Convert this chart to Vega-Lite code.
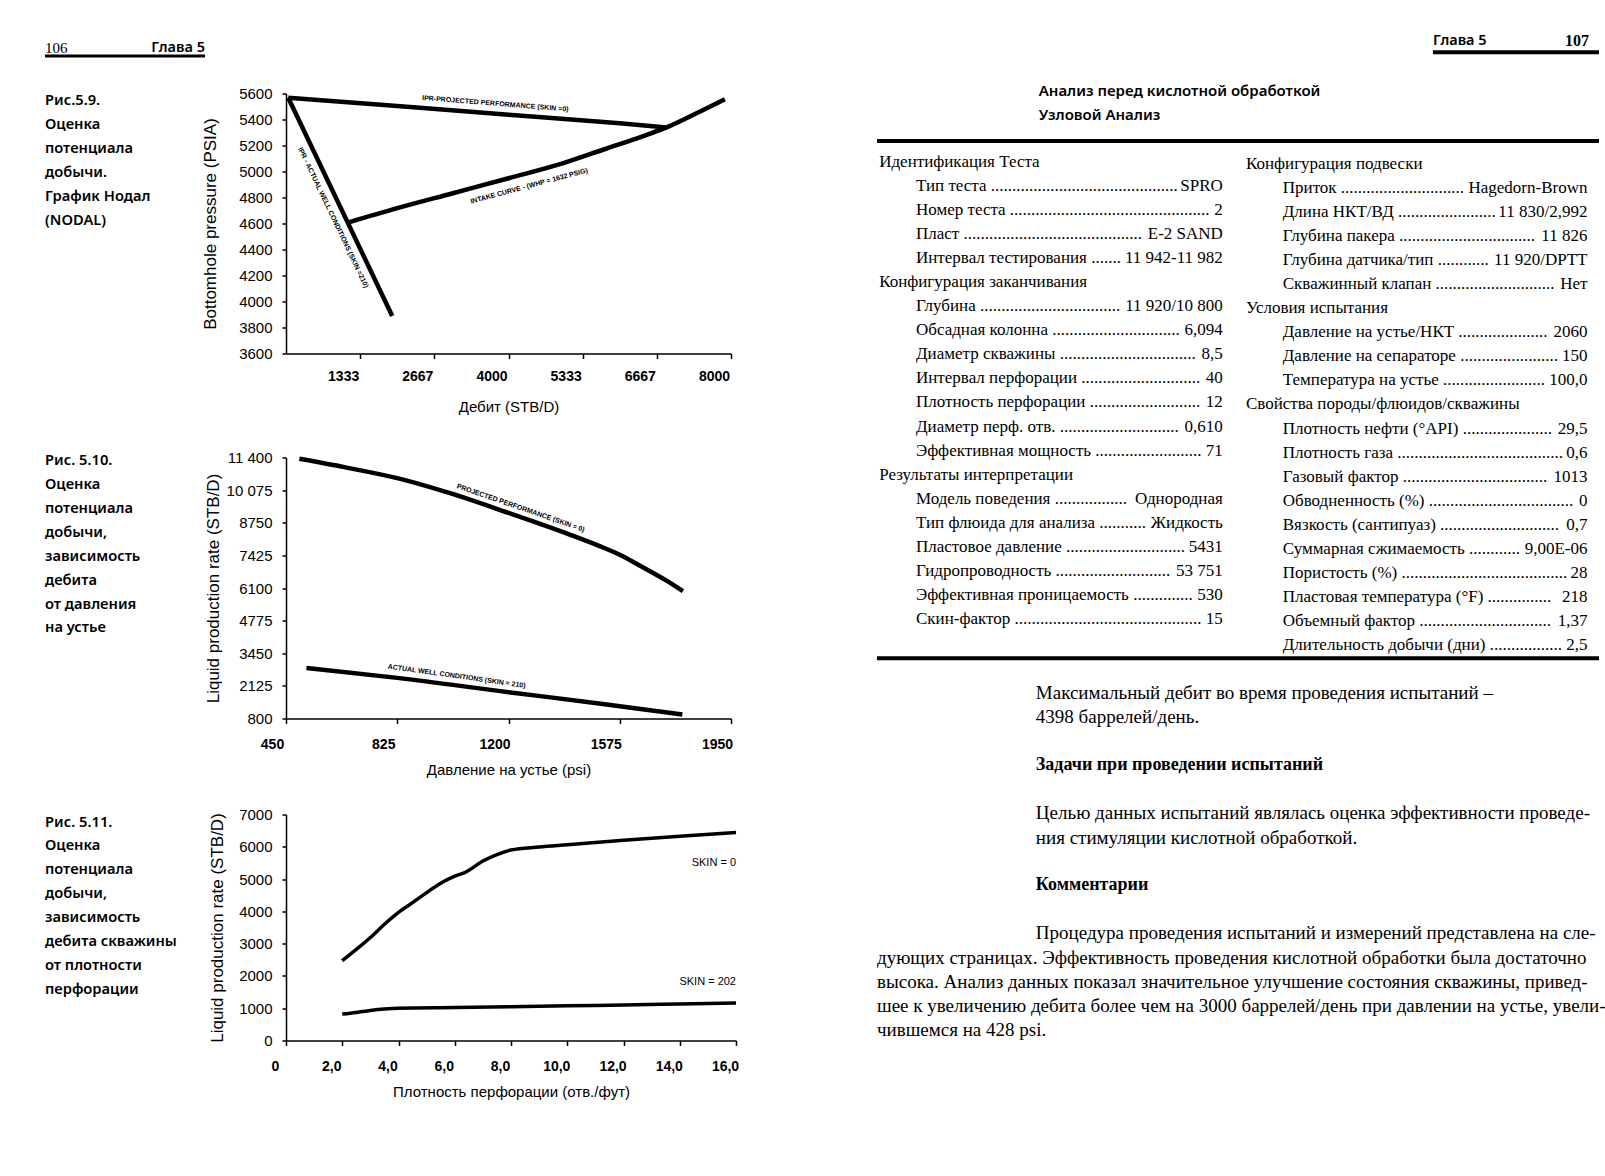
{
 "$schema": "https://vega.github.io/schema/vega-lite/v6.json",
 "background": "white",
 "padding": {"left": 43, "top": 32.5, "right": 4, "bottom": 10},
 "columns": 3,
 "align": "each",
 "bounds": "flush",
 "spacing": {"row": 94, "column": 81},
 "config": {
  "view": {"stroke": null},
  "axis": {"grid": false, "domainColor": "black", "domainWidth": 1.5, "tickColor": "black", "tickWidth": 1.5, "labelColor": "black", "titleColor": "black", "labelFont": "Liberation Sans", "titleFont": "Liberation Sans", "titleFontWeight": "normal", "labelFlush": false, "labelOverlap": false, "labelBound": false},
  "text": {"color": "black"},
  "line": {"color": "black"},
  "rule": {"color": "black"}
 },
 "datasets": {
  "pageHeader": [{"line": -5, "chapter": "Глава 5", "page": "107"}],
  "titles": [{"line": -3, "text": "Анализ перед кислотной обработкой"}, {"line": -2, "text": "Узловой Анализ"}],
  "tlSections": [{"line": 0, "text": "Идентификация Теста"}, {"line": 5, "text": "Конфигурация заканчивания"}, {"line": 13, "text": "Результаты интерпретации"}],
  "tlItems": [
   {"line": 1, "label": "Тип теста ............................................", "value": "SPRO"},
   {"line": 2, "label": "Номер теста ...............................................", "value": "2"},
   {"line": 3, "label": "Пласт ..........................................", "value": "E-2 SAND"},
   {"line": 4, "label": "Интервал тестирования .......", "value": "11 942-11 982"},
   {"line": 6, "label": "Глубина .................................", "value": "11 920/10 800"},
   {"line": 7, "label": "Обсадная колонна ..............................", "value": "6,094"},
   {"line": 8, "label": "Диаметр скважины ................................", "value": "8,5"},
   {"line": 9, "label": "Интервал перфорации ............................", "value": "40"},
   {"line": 10, "label": "Плотность перфорации ..........................", "value": "12"},
   {"line": 11, "label": "Диаметр перф. отв. ............................", "value": "0,610"},
   {"line": 12, "label": "Эффективная мощность .........................", "value": "71"},
   {"line": 14, "label": "Модель поведения .................", "value": "Однородная"},
   {"line": 15, "label": "Тип флюида для анализа ...........", "value": "Жидкость"},
   {"line": 16, "label": "Пластовое давление ............................", "value": "5431"},
   {"line": 17, "label": "Гидропроводность ...........................", "value": "53 751"},
   {"line": 18, "label": "Эффективная проницаемость ..............", "value": "530"},
   {"line": 19, "label": "Скин-фактор ............................................", "value": "15"}
  ],
  "trSections": [{"line": 0, "text": "Конфигурация подвески"}, {"line": 6, "text": "Условия испытания"}, {"line": 10, "text": "Свойства породы/флюидов/скважины"}],
  "trItems": [
   {"line": 1, "label": "Приток .............................", "value": "Hagedorn-Brown"},
   {"line": 2, "label": "Длина НКТ/ВД .......................", "value": "11 830/2,992"},
   {"line": 3, "label": "Глубина пакера ................................", "value": "11 826"},
   {"line": 4, "label": "Глубина датчика/тип ............", "value": "11 920/DPTT"},
   {"line": 5, "label": "Скважинный клапан ............................", "value": "Нет"},
   {"line": 7, "label": "Давление на устье/НКТ .....................", "value": "2060"},
   {"line": 8, "label": "Давление на сепараторе .......................", "value": "150"},
   {"line": 9, "label": "Температура на устье ........................", "value": "100,0"},
   {"line": 11, "label": "Плотность нефти (°API) .....................", "value": "29,5"},
   {"line": 12, "label": "Плотность газа .......................................", "value": "0,6"},
   {"line": 13, "label": "Газовый фактор ..................................", "value": "1013"},
   {"line": 14, "label": "Обводненность (%) ..................................", "value": "0"},
   {"line": 15, "label": "Вязкость (сантипуаз) ............................", "value": "0,7"},
   {"line": 16, "label": "Суммарная сжимаемость ............", "value": "9,00E-06"},
   {"line": 17, "label": "Пористость (%) .......................................", "value": "28"},
   {"line": 18, "label": "Пластовая температура (°F) ...............", "value": "218"},
   {"line": 19, "label": "Объемный фактор ...............................", "value": "1,37"},
   {"line": 20, "label": "Длительность добычи (дни) .................", "value": "2,5"}
  ],
  "para2": [
   {"line": 22, "text": "Максимальный дебит во время проведения испытаний –"},
   {"line": 23, "text": "4398 баррелей/день."},
   {"line": 27, "text": "Целью данных испытаний являлась оценка эффективности проведе-"},
   {"line": 28, "text": "ния стимуляции кислотной обработкой."}
  ],
  "heading2": [{"line": 25, "text": "Задачи при проведении испытаний"}],
  "heading3": [{"line": 30, "text": "Комментарии"}],
  "para3Indented": [{"line": 32, "text": "Процедура проведения испытаний и измерений представлена на сле-"}],
  "para3Full": [
   {"line": 33, "text": "дующих страницах. Эффективность проведения кислотной обработки была достаточно"},
   {"line": 34, "text": "высока. Анализ данных показал значительное улучшение состояния скважины, привед-"},
   {"line": 35, "text": "шее к увеличению дебита более чем на 3000 баррелей/день при давлении на устье, увели-"},
   {"line": 36, "text": "чившемся на 428 psi."}
  ]
 },
 "concat": [
  {
   "width": 160, "height": 270,
   "layer": [
    {"data": {"values": [{"line": 1, "text": "Рис.5.9."}, {"line": 2, "text": "Оценка"}, {"line": 3, "text": "потенциала"}, {"line": 4, "text": "добычи."}, {"line": 5, "text": "График Нодал"}, {"line": 6, "text": "(NODAL)"}]},
     "mark": {"type": "text", "align": "left", "baseline": "middle", "font": "Noto Sans", "fontSize": 14.7, "fontWeight": 600},
     "encoding": {
      "x": {"datum": 0, "type": "quantitative", "scale": {"domain": [0, 1], "nice": false, "zero": false}, "axis": null},
      "y": {"field": "line", "type": "quantitative", "scale": {"domain": [0.666, 11.963], "reverse": true, "nice": false, "zero": false}, "axis": null},
      "text": {"field": "text"}}},
    {"data": {"values": [{"text": "106"}]}, "mark": {"type": "text", "align": "left", "baseline": "middle", "font": "Liberation Serif", "fontSize": 15},
     "encoding": {"x": {"datum": 0, "type": "quantitative"}, "y": {"datum": -1.22, "type": "quantitative"}, "text": {"field": "text"}}},
    {"data": {"values": [{"text": "Глава 5"}]}, "mark": {"type": "text", "align": "right", "baseline": "middle", "font": "Noto Sans", "fontSize": 14.5, "fontWeight": 600},
     "encoding": {"x": {"datum": 1, "type": "quantitative"}, "y": {"datum": -1.22, "type": "quantitative"}, "text": {"field": "text"}}},
    {"data": {"values": [{}]}, "mark": {"type": "rule", "strokeWidth": 3},
     "encoding": {"x": {"datum": 0, "type": "quantitative"}, "x2": {"datum": 1}, "y": {"datum": -0.905, "type": "quantitative"}}}
   ]
  },
  {
   "width": 445, "height": 260,
   "encoding": {
    "x": {"field": "rate", "type": "quantitative", "scale": {"domain": [0, 8000], "nice": false, "zero": false},
          "axis": {"values": [1333.33, 2666.67, 4000, 5333.33, 6666.67, 8000], "format": ".0f", "title": "Дебит (STB/D)", "tickSize": 5, "labelFontSize": 14, "labelFontWeight": "bold", "labelOffset": -17, "labelPadding": 11, "titleFontSize": 15, "titlePadding": 16}},
    "y": {"field": "pressure", "type": "quantitative", "scale": {"domain": [3600, 5600], "nice": false, "zero": false},
          "axis": {"values": [3600, 3800, 4000, 4200, 4400, 4600, 4800, 5000, 5200, 5400, 5600], "format": "d", "title": "Bottomhole pressure (PSIA)", "tickSize": 4, "labelFontSize": 15, "labelPadding": 10, "titleFontSize": 17, "titlePadding": 19}}
   },
   "layer": [
    {
     "data": {"values": [
      {"curve": "IPR projected (skin 0)", "rate": 40, "pressure": 5567},
      {"curve": "IPR projected (skin 0)", "rate": 2000, "pressure": 5503},
      {"curve": "IPR projected (skin 0)", "rate": 4000, "pressure": 5437},
      {"curve": "IPR projected (skin 0)", "rate": 6000, "pressure": 5371},
      {"curve": "IPR projected (skin 0)", "rate": 6840, "pressure": 5339},
      {"curve": "IPR actual (skin 210)", "rate": 40, "pressure": 5567},
      {"curve": "IPR actual (skin 210)", "rate": 1910, "pressure": 3889},
      {"curve": "Intake curve (WHP 1632)", "rate": 1110, "pressure": 4607},
      {"curve": "Intake curve (WHP 1632)", "rate": 2000, "pressure": 4718},
      {"curve": "Intake curve (WHP 1632)", "rate": 3000, "pressure": 4833},
      {"curve": "Intake curve (WHP 1632)", "rate": 4000, "pressure": 4948},
      {"curve": "Intake curve (WHP 1632)", "rate": 5000, "pressure": 5066},
      {"curve": "Intake curve (WHP 1632)", "rate": 5750, "pressure": 5175},
      {"curve": "Intake curve (WHP 1632)", "rate": 6400, "pressure": 5268},
      {"curve": "Intake curve (WHP 1632)", "rate": 6840, "pressure": 5339},
      {"curve": "Intake curve (WHP 1632)", "rate": 7370, "pressure": 5446},
      {"curve": "Intake curve (WHP 1632)", "rate": 7890, "pressure": 5556}
     ]},
     "mark": {"type": "line", "strokeWidth": 4.5, "strokeJoin": "round", "interpolate": "monotone"},
     "encoding": {"detail": {"field": "curve"}}
    },
    {"data": {"values": [{"rate": 3763, "pressure": 5521, "label": "IPR-PROJECTED PERFORMANCE (SKIN =0)"}]},
     "mark": {"type": "text", "angle": 4.5, "font": "Liberation Sans", "fontSize": 7, "fontWeight": "bold"},
     "encoding": {"text": {"field": "label"}}},
    {"data": {"values": [{"rate": 4372, "pressure": 4888, "label": "INTAKE CURVE - (WHP = 1632 PSIG)"}]},
     "mark": {"type": "text", "angle": -15, "font": "Liberation Sans", "fontSize": 7, "fontWeight": "bold"},
     "encoding": {"text": {"field": "label"}}},
    {"data": {"values": [{"rate": 847, "pressure": 4645, "label": "IPR - ACTUAL WELL CONDITIONS (SKIN =210)"}]},
     "mark": {"type": "text", "angle": 64.5, "font": "Liberation Sans", "fontSize": 7, "fontWeight": "bold"},
     "encoding": {"text": {"field": "label"}}}
   ]
  },
  {
   "width": 782, "height": 260,
   "encoding": {
    "x": {"datum": 0, "type": "quantitative", "scale": {"domain": [-8.31, 100], "nice": false, "zero": false}, "axis": null}
   },
   "layer": [
    {"data": {"name": "pageHeader"}, "mark": {"type": "text", "align": "left", "baseline": "middle", "font": "Noto Sans", "fontSize": 14.5, "fontWeight": 600},
     "encoding": {"x": {"datum": 77.0, "type": "quantitative"}, "y": {"field": "line", "type": "quantitative", "scale": {"domain": [-2.834, 7.966], "reverse": true, "nice": false, "zero": false}, "axis": null}, "text": {"field": "chapter"}}},
    {"data": {"name": "pageHeader"}, "mark": {"type": "text", "align": "right", "baseline": "middle", "font": "Liberation Serif", "fontSize": 16, "fontWeight": "bold"},
     "encoding": {"x": {"datum": 98.6, "type": "quantitative"}, "y": {"field": "line", "type": "quantitative"}, "text": {"field": "page"}}},
    {"data": {"values": [{}]}, "mark": {"type": "rule", "strokeWidth": 4},
     "encoding": {"x": {"datum": 77.0, "type": "quantitative"}, "x2": {"datum": 100}, "y": {"datum": -4.55, "type": "quantitative"}}},
    {"data": {"name": "titles"}, "mark": {"type": "text", "align": "left", "baseline": "middle", "font": "Noto Sans", "fontSize": 15, "fontWeight": 600, "dy": 1.5},
     "encoding": {"x": {"datum": 22.4, "type": "quantitative"}, "y": {"field": "line", "type": "quantitative"}, "text": {"field": "text"}}},
    {"data": {"values": [{}]}, "mark": {"type": "rule", "strokeWidth": 4},
     "encoding": {"x": {"datum": 0, "type": "quantitative"}, "x2": {"datum": 100}, "y": {"datum": -0.86, "type": "quantitative"}}},
    {"data": {"values": [{}]}, "mark": {"type": "rule", "strokeWidth": 4},
     "encoding": {"x": {"datum": 0, "type": "quantitative"}, "x2": {"datum": 100}, "y": {"datum": 20.63, "type": "quantitative"}}},
    {"data": {"name": "tlSections"}, "mark": {"type": "text", "align": "left", "baseline": "middle", "font": "Liberation Serif", "fontSize": 17},
     "encoding": {"x": {"datum": 0.3, "type": "quantitative"}, "y": {"field": "line", "type": "quantitative"}, "text": {"field": "text"}}},
    {"data": {"name": "tlItems"}, "mark": {"type": "text", "align": "left", "baseline": "middle", "font": "Liberation Serif", "fontSize": 17},
     "encoding": {"x": {"datum": 5.4, "type": "quantitative"}, "y": {"field": "line", "type": "quantitative"}, "text": {"field": "label"}}},
    {"data": {"name": "tlItems"}, "mark": {"type": "text", "align": "right", "baseline": "middle", "font": "Liberation Serif", "fontSize": 17},
     "encoding": {"x": {"datum": 47.9, "type": "quantitative"}, "y": {"field": "line", "type": "quantitative"}, "text": {"field": "value"}}},
    {"data": {"name": "trSections"}, "mark": {"type": "text", "align": "left", "baseline": "middle", "font": "Liberation Serif", "fontSize": 17, "dy": 2},
     "encoding": {"x": {"datum": 51.1, "type": "quantitative"}, "y": {"field": "line", "type": "quantitative"}, "text": {"field": "text"}}},
    {"data": {"name": "trItems"}, "mark": {"type": "text", "align": "left", "baseline": "middle", "font": "Liberation Serif", "fontSize": 17, "dy": 2},
     "encoding": {"x": {"datum": 56.2, "type": "quantitative"}, "y": {"field": "line", "type": "quantitative"}, "text": {"field": "label"}}},
    {"data": {"name": "trItems"}, "mark": {"type": "text", "align": "right", "baseline": "middle", "font": "Liberation Serif", "fontSize": 17, "dy": 2},
     "encoding": {"x": {"datum": 98.4, "type": "quantitative"}, "y": {"field": "line", "type": "quantitative"}, "text": {"field": "value"}}}
   ]
  },
  {
   "width": 160, "height": 263,
   "data": {"values": [{"line": 1, "text": "Рис. 5.10."}, {"line": 2, "text": "Оценка"}, {"line": 3, "text": "потенциала"}, {"line": 4, "text": "добычи,"}, {"line": 5, "text": "зависимость"}, {"line": 6, "text": "дебита"}, {"line": 7, "text": "от давления"}, {"line": 8, "text": "на устье"}]},
   "mark": {"type": "text", "align": "left", "baseline": "middle", "font": "Noto Sans", "fontSize": 14.7, "fontWeight": 600},
   "encoding": {
    "x": {"datum": 0, "type": "quantitative", "scale": {"domain": [0, 1], "nice": false, "zero": false}, "axis": null},
    "y": {"field": "line", "type": "quantitative", "scale": {"domain": [0.849, 11.853], "reverse": true, "nice": false, "zero": false}, "axis": null},
    "text": {"field": "text"}
   }
  },
  {
   "width": 445, "height": 261,
   "encoding": {
    "x": {"field": "whp", "type": "quantitative", "scale": {"domain": [450, 1950], "nice": false, "zero": false},
          "axis": {"values": [450, 825, 1200, 1575, 1950], "format": "d", "title": "Давление на устье (psi)", "tickSize": 5, "labelFontSize": 14, "labelFontWeight": "bold", "labelOffset": -14, "labelPadding": 14, "titleFontSize": 15, "titlePadding": 11}},
    "y": {"field": "rate", "type": "quantitative", "scale": {"domain": [800, 11400], "nice": false, "zero": false},
          "axis": {"values": [800, 2125, 3450, 4775, 6100, 7425, 8750, 10075, 11400], "labelExpr": "datum.value >= 10000 ? replace(format(datum.value, ','), ',', ' ') : format(datum.value, 'd')", "title": "Liquid production rate (STB/D)", "tickSize": 4, "labelFontSize": 15, "labelPadding": 10, "titleFontSize": 17, "titlePadding": 4}}
   },
   "layer": [
    {
     "data": {"values": [
      {"curve": "Projected performance (skin 0)", "whp": 495, "rate": 11346},
      {"curve": "Projected performance (skin 0)", "whp": 650, "rate": 11000},
      {"curve": "Projected performance (skin 0)", "whp": 825, "rate": 10560},
      {"curve": "Projected performance (skin 0)", "whp": 1000, "rate": 9960},
      {"curve": "Projected performance (skin 0)", "whp": 1200, "rate": 9150},
      {"curve": "Projected performance (skin 0)", "whp": 1400, "rate": 8300},
      {"curve": "Projected performance (skin 0)", "whp": 1505, "rate": 7814},
      {"curve": "Projected performance (skin 0)", "whp": 1575, "rate": 7450},
      {"curve": "Projected performance (skin 0)", "whp": 1640, "rate": 7026},
      {"curve": "Projected performance (skin 0)", "whp": 1730, "rate": 6417},
      {"curve": "Projected performance (skin 0)", "whp": 1788, "rate": 5970},
      {"curve": "Actual well conditions (skin 210)", "whp": 519, "rate": 2855},
      {"curve": "Actual well conditions (skin 210)", "whp": 825, "rate": 2450},
      {"curve": "Actual well conditions (skin 210)", "whp": 1200, "rate": 1870},
      {"curve": "Actual well conditions (skin 210)", "whp": 1505, "rate": 1410},
      {"curve": "Actual well conditions (skin 210)", "whp": 1786, "rate": 960}
     ]},
     "mark": {"type": "line", "strokeWidth": 4.5, "strokeJoin": "round", "interpolate": "monotone"},
     "encoding": {"detail": {"field": "curve"}}
    },
    {"data": {"values": [{"whp": 1241, "rate": 9345, "label": "PROJECTED PERFORMANCE (SKIN = 0)"}]},
     "mark": {"type": "text", "angle": 19, "font": "Liberation Sans", "fontSize": 7, "fontWeight": "bold"},
     "encoding": {"text": {"field": "label"}}},
    {"data": {"values": [{"whp": 1025, "rate": 2517, "label": "ACTUAL WELL CONDITIONS (SKIN = 210)"}]},
     "mark": {"type": "text", "angle": 8, "font": "Liberation Sans", "fontSize": 7, "fontWeight": "bold"},
     "encoding": {"text": {"field": "label"}}}
   ]
  },
  {
   "width": 782, "height": 261,
   "encoding": {
    "x": {"datum": 0, "type": "quantitative", "scale": {"domain": [-8.31, 100], "nice": false, "zero": false}, "axis": null}
   },
   "layer": [
    {"data": {"name": "para2"}, "mark": {"type": "text", "align": "left", "baseline": "middle", "font": "Liberation Serif", "fontSize": 19},
     "encoding": {"x": {"datum": 22.0, "type": "quantitative"}, "y": {"field": "line", "type": "quantitative", "scale": {"domain": [12.203, 23.053], "reverse": true, "nice": false, "zero": false}, "axis": null}, "text": {"field": "text"}}},
    {"data": {"name": "heading2"}, "mark": {"type": "text", "align": "left", "baseline": "middle", "font": "Liberation Serif", "fontSize": 18, "fontWeight": "bold"},
     "encoding": {"x": {"datum": 22.0, "type": "quantitative"}, "y": {"field": "line", "type": "quantitative"}, "text": {"field": "text"}}}
   ]
  },
  {
   "width": 160, "height": 226,
   "data": {"values": [{"line": 1, "text": "Рис. 5.11."}, {"line": 2, "text": "Оценка"}, {"line": 3, "text": "потенциала"}, {"line": 4, "text": "добычи,"}, {"line": 5, "text": "зависимость"}, {"line": 6, "text": "дебита скважины"}, {"line": 7, "text": "от плотности"}, {"line": 8, "text": "перфорации"}]},
   "mark": {"type": "text", "align": "left", "baseline": "middle", "font": "Noto Sans", "fontSize": 14.7, "fontWeight": 600},
   "encoding": {
    "x": {"datum": 0, "type": "quantitative", "scale": {"domain": [0, 1], "nice": false, "zero": false}, "axis": null},
    "y": {"field": "line", "type": "quantitative", "scale": {"domain": [0.665, 10.121], "reverse": true, "nice": false, "zero": false}, "axis": null},
    "text": {"field": "text"}
   }
  },
  {
   "width": 450, "height": 226,
   "encoding": {
    "x": {"field": "density", "type": "quantitative", "scale": {"domain": [0, 16], "nice": false, "zero": false},
          "axis": {"values": [0, 2, 4, 6, 8, 10, 12, 14, 16], "labelExpr": "datum.value == 0 ? '0' : replace(format(datum.value, '.1f'), '.', ',')", "title": "Плотность перфорации (отв./фут)", "tickSize": 5, "labelFontSize": 14, "labelFontWeight": "bold", "labelOffset": -11, "labelPadding": 14, "titleFontSize": 15, "titlePadding": 11}},
    "y": {"field": "rate", "type": "quantitative", "scale": {"domain": [0, 7000], "nice": false, "zero": false},
          "axis": {"values": [0, 1000, 2000, 3000, 4000, 5000, 6000, 7000], "format": "d", "title": "Liquid production rate (STB/D)", "tickSize": 4, "labelFontSize": 15, "labelPadding": 10, "titleFontSize": 17, "titlePadding": 12}}
   },
   "layer": [
    {
     "data": {"values": [
      {"curve": "SKIN = 0", "density": 2.0, "rate": 2470},
      {"curve": "SKIN = 0", "density": 2.5, "rate": 2820},
      {"curve": "SKIN = 0", "density": 3.0, "rate": 3190},
      {"curve": "SKIN = 0", "density": 3.5, "rate": 3600},
      {"curve": "SKIN = 0", "density": 4.0, "rate": 3970},
      {"curve": "SKIN = 0", "density": 4.5, "rate": 4270},
      {"curve": "SKIN = 0", "density": 5.0, "rate": 4580},
      {"curve": "SKIN = 0", "density": 5.5, "rate": 4870},
      {"curve": "SKIN = 0", "density": 6.0, "rate": 5090},
      {"curve": "SKIN = 0", "density": 6.4, "rate": 5220},
      {"curve": "SKIN = 0", "density": 7.0, "rate": 5560},
      {"curve": "SKIN = 0", "density": 7.5, "rate": 5760},
      {"curve": "SKIN = 0", "density": 8.0, "rate": 5900},
      {"curve": "SKIN = 0", "density": 9.0, "rate": 5990},
      {"curve": "SKIN = 0", "density": 10.0, "rate": 6060},
      {"curve": "SKIN = 0", "density": 12.0, "rate": 6200},
      {"curve": "SKIN = 0", "density": 14.0, "rate": 6330},
      {"curve": "SKIN = 0", "density": 16.0, "rate": 6440},
      {"curve": "SKIN = 202", "density": 2.0, "rate": 820},
      {"curve": "SKIN = 202", "density": 2.5, "rate": 870},
      {"curve": "SKIN = 202", "density": 3.0, "rate": 930},
      {"curve": "SKIN = 202", "density": 3.5, "rate": 975},
      {"curve": "SKIN = 202", "density": 4.0, "rate": 1000},
      {"curve": "SKIN = 202", "density": 6.0, "rate": 1020},
      {"curve": "SKIN = 202", "density": 8.0, "rate": 1045},
      {"curve": "SKIN = 202", "density": 10.0, "rate": 1075},
      {"curve": "SKIN = 202", "density": 12.0, "rate": 1100},
      {"curve": "SKIN = 202", "density": 14.0, "rate": 1130},
      {"curve": "SKIN = 202", "density": 16.0, "rate": 1160}
     ]},
     "mark": {"type": "line", "strokeWidth": 3.5, "strokeJoin": "round", "interpolate": "monotone"},
     "encoding": {"detail": {"field": "curve"}}
    },
    {"data": {"values": [{"density": 16, "rate": 5513, "label": "SKIN = 0"}, {"density": 16, "rate": 1827, "label": "SKIN = 202"}]},
     "mark": {"type": "text", "align": "right", "baseline": "middle", "font": "Liberation Sans", "fontSize": 11},
     "encoding": {"text": {"field": "label"}}}
   ]
  },
  {
   "width": 782, "height": 226,
   "encoding": {
    "x": {"datum": 0, "type": "quantitative", "scale": {"domain": [-8.31, 100], "nice": false, "zero": false}, "axis": null}
   },
   "layer": [
    {"data": {"name": "heading3"}, "mark": {"type": "text", "align": "left", "baseline": "middle", "font": "Liberation Serif", "fontSize": 18, "fontWeight": "bold"},
     "encoding": {"x": {"datum": 22.0, "type": "quantitative"}, "y": {"field": "line", "type": "quantitative", "scale": {"domain": [27.057, 36.447], "reverse": true, "nice": false, "zero": false}, "axis": null}, "text": {"field": "text"}}},
    {"data": {"name": "para3Indented"}, "mark": {"type": "text", "align": "left", "baseline": "middle", "font": "Liberation Serif", "fontSize": 19},
     "encoding": {"x": {"datum": 22.0, "type": "quantitative"}, "y": {"field": "line", "type": "quantitative"}, "text": {"field": "text"}}},
    {"data": {"name": "para3Full"}, "mark": {"type": "text", "align": "left", "baseline": "middle", "font": "Liberation Serif", "fontSize": 19},
     "encoding": {"x": {"datum": 0, "type": "quantitative"}, "y": {"field": "line", "type": "quantitative"}, "text": {"field": "text"}}}
   ]
  }
 ]
}
